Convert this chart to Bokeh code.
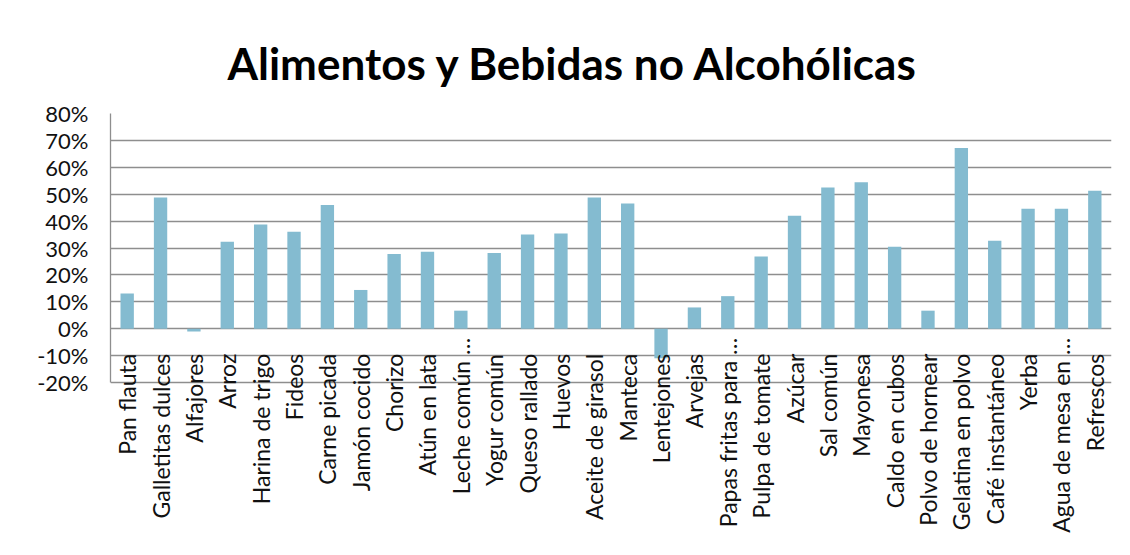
import math
from bokeh.plotting import figure
from bokeh.models import Range1d, FixedTicker, NumeralTickFormatter, ColumnDataSource
from bokeh.core.properties import value
from bokeh.embed import file_html
from bokeh.resources import INLINE

# ---------------- data ----------------
categories = [
    "Pan flauta", "Galletitas dulces", "Alfajores", "Arroz", "Harina de trigo",
    "Fideos", "Carne picada", "Jamón cocido", "Chorizo", "Atún en lata",
    "Leche común …", "Yogur común", "Queso rallado", "Huevos", "Aceite de girasol",
    "Manteca", "Lentejones", "Arvejas", "Papas fritas para …", "Pulpa de tomate",
    "Azúcar", "Sal común", "Mayonesa", "Caldo en cubos", "Polvo de hornear",
    "Gelatina en polvo", "Café instantáneo", "Yerba", "Agua de mesa en …", "Refrescos",
]
values = [
    0.131, 0.488, -0.010, 0.323, 0.387,
    0.360, 0.460, 0.144, 0.278, 0.286,
    0.067, 0.281, 0.350, 0.354, 0.488,
    0.465, -0.110, 0.079, 0.121, 0.268,
    0.420, 0.525, 0.544, 0.305, 0.067,
    0.672, 0.327, 0.446, 0.446, 0.513,
]
y_ticks = [-0.2, -0.1, 0.0, 0.1, 0.2, 0.3, 0.4, 0.5, 0.6, 0.7, 0.8]
title_text = "Alimentos y Bebidas no Alcohólicas"

# ---------------- layout ----------------
W, H = 1121, 547
B_LEFT, B_RIGHT, B_TOP = 110, 10, 113
PX_PER_UNIT = 269.0            # pixels for 100 %
frame_h = H - B_TOP
y_end = 0.8
y_start = y_end - frame_h / PX_PER_UNIT

FONT = "Lato"
GRID = "#8e8e8e"
BAR = "#84bbd0"

p = figure(
    width=W, height=H, x_range=categories, y_range=Range1d(y_start, y_end),
    output_backend="svg", toolbar_location=None,
    min_border_left=B_LEFT, min_border_right=B_RIGHT,
    min_border_top=B_TOP, min_border_bottom=0,
)
p.outline_line_color = None
p.background_fill_color = "white"
p.border_fill_color = "white"

p.title.text = title_text
p.title.align = "left"
p.title.offset = 117
p.title.standoff = 50
p.title.text_font = FONT
p.title.text_font_style = "bold"
p.title.text_font_size = "44px"
p.title.text_color = "black"

p.xaxis.visible = False
p.xgrid.grid_line_color = None

ticker = FixedTicker(ticks=y_ticks)
p.yaxis.ticker = ticker
p.yaxis.formatter = NumeralTickFormatter(format="0%")
p.yaxis.bounds = (y_ticks[0], y_ticks[-1])
p.yaxis.axis_line_color = GRID
p.yaxis.axis_line_width = 1.3
p.yaxis.major_tick_line_color = None
p.yaxis.major_tick_out = 0
p.yaxis.major_tick_in = 0
p.yaxis.minor_tick_line_color = None
p.yaxis.major_label_standoff = 22
p.yaxis.major_label_text_font = FONT
p.yaxis.major_label_text_font_size = "22px"
p.yaxis.major_label_text_color = "#111111"

p.ygrid.ticker = ticker
p.ygrid.grid_line_color = GRID
p.ygrid.grid_line_width = 1.3

src = ColumnDataSource(dict(cat=categories, val=values))
p.vbar(x="cat", top="val", bottom=0, width=0.40, source=src,
       fill_color=BAR, line_color=None)

# category labels hanging below the zero line (Excel style);
# truncated labels (ending with an ellipsis) sit a little higher
full = [c for c in categories if not c.endswith("…")]
trunc = [c for c in categories if c.endswith("…")]
label_style = dict(angle=math.pi / 2, text_align="right", text_baseline="middle",
                   text_font=value(FONT), text_font_size="23px", text_color="#111111")
p.text(x=full, y=[0] * len(full), text=full, y_offset=25, **label_style)
p.text(x=trunc, y=[0] * len(trunc), text=trunc, y_offset=9, **label_style)

open("out.html", "w").write(file_html(p, INLINE))
